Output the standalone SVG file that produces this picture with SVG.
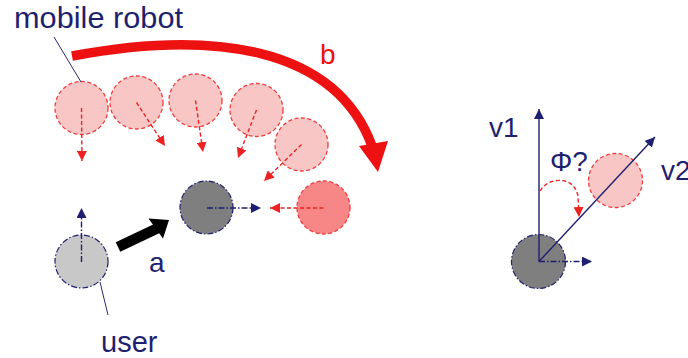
<svg xmlns="http://www.w3.org/2000/svg" width="688" height="358" viewBox="0 0 688 358">
<defs>
<style>
.lbl{font-family:"Liberation Sans",Arial,sans-serif;font-size:28px;fill:#1f1f70}
.ghost{fill:#f9c6c6;stroke:#f03c3c;stroke-width:1.3;stroke-dasharray:4 2.5}
.reddash{fill:none;stroke:#ee2222;stroke-width:1.4;stroke-dasharray:4 2.5}
.navydd{fill:none;stroke:#1f1f70;stroke-width:1.4;stroke-dasharray:6 2 1.5 2}
.navy{fill:none;stroke:#1f1f70;stroke-width:1.4}
.lead{fill:none;stroke:#2a2a70;stroke-width:1}
</style>
<marker id="rh" markerUnits="userSpaceOnUse" markerWidth="12" markerHeight="10" refX="10" refY="5" orient="auto"><path d="M0,0 L10,5 L0,10 Z" fill="#ee2222"/></marker>
<marker id="nh" markerUnits="userSpaceOnUse" markerWidth="12" markerHeight="10" refX="10" refY="5" orient="auto"><path d="M0,0 L10,5 L0,10 Z" fill="#1f1f70"/></marker>
</defs>
<rect width="688" height="358" fill="#ffffff"/>

<g id="ghost1"><circle class="ghost" cx="81.5" cy="108" r="26.5"/></g>
<g id="ghost2"><circle class="ghost" cx="136.5" cy="102.5" r="26.5"/></g>
<g id="ghost3"><circle class="ghost" cx="195.5" cy="100.5" r="26.5"/></g>
<g id="ghost4"><circle class="ghost" cx="256.5" cy="110" r="26.5"/></g>
<g id="ghost5"><circle class="ghost" cx="301.5" cy="144.5" r="26.5"/></g>
<g id="robot-red"><circle class="ghost" style="fill:#f78686" cx="323.5" cy="207.5" r="26.5"/></g>
<g id="robot"><circle cx="206.5" cy="207.5" r="26.5" fill="#7f7f7f" stroke="#1f1f70" stroke-width="1.2" stroke-dasharray="6 2 1.5 2"/></g>
<g id="user"><circle cx="81.5" cy="261.5" r="26.5" fill="#c8c8c8" stroke="#1f1f70" stroke-width="1.2" stroke-dasharray="6 2 1.5 2"/></g>
<g id="robot2"><circle cx="538.5" cy="261.5" r="27" fill="#7f7f7f" stroke="#1f1f70" stroke-width="1.2" stroke-dasharray="6 2 1.5 2"/></g>
<g id="ghost-right"><circle class="ghost" cx="615.5" cy="180.5" r="27"/></g>

<g id="connectors">
<path d="M72,56 C210,30 335,45 372,146" fill="none" stroke="#ee1111" stroke-width="9.5"/>
<polygon points="359,146 388,141 378,172" fill="#ee1111"/>
<path class="reddash" d="M81.5,108 L82,161" marker-end="url(#rh)"/>
<path class="reddash" d="M136.5,102.5 L165,146" marker-end="url(#rh)"/>
<path class="reddash" d="M195.5,100.5 L203,152" marker-end="url(#rh)"/>
<path class="reddash" d="M256.5,110 L238,158" marker-end="url(#rh)"/>
<path class="reddash" d="M301.5,144.5 L264,181" marker-end="url(#rh)"/>
<path class="reddash" d="M323.5,208 L270,208" marker-end="url(#rh)"/>
<path class="navydd" d="M207,208 L261,208" marker-end="url(#nh)"/>
<path class="navydd" d="M81.5,262 L81.5,208" marker-end="url(#nh)"/>
<path d="M118,247 L158,228" stroke="#000" stroke-width="10.5" fill="none"/>
<polygon points="148.5,218.5 169,220 163,238.5" fill="#000"/>
<path class="lead" d="M54,37 L81,82"/>
<path class="lead" d="M100,282 L108,315"/>
<path class="navy" d="M539,261.5 L539,109" marker-end="url(#nh)"/>
<path class="navy" d="M539,261.5 L655,137" marker-end="url(#nh)"/>
<path class="navydd" d="M539,261.5 L592,261.5" marker-end="url(#nh)"/>
<path class="reddash" d="M540,191 C548,177 574,175 578,196 L579,217" marker-end="url(#rh)"/>
</g>

<text class="lbl" x="14" y="28" style="font-size:29px" textLength="169" lengthAdjust="spacingAndGlyphs">mobile robot</text>
<text class="lbl" x="101" y="352" style="font-size:29px">user</text>
<text class="lbl" x="149" y="272">a</text>
<text class="lbl" x="320" y="64" style="fill:#ee1111">b</text>
<text class="lbl" x="489" y="137">v1</text>
<text class="lbl" x="550" y="171">Φ?</text>
<text class="lbl" x="661" y="180">v2</text>
</svg>
